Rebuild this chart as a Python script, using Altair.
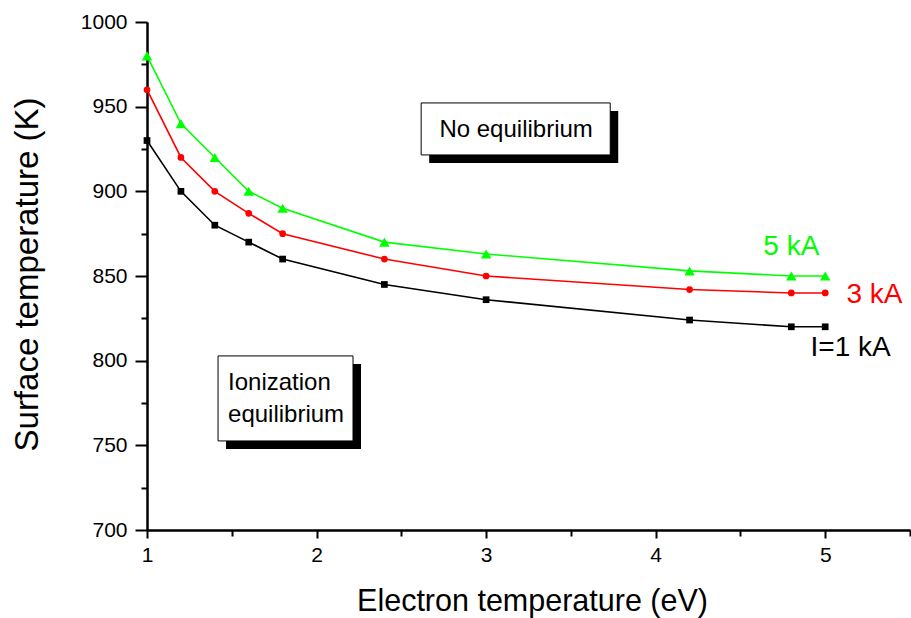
import altair as alt
import pandas as pd

# ---- data ----
TE = [1, 1.2, 1.4, 1.6, 1.8, 2.4, 3, 4.2, 4.8, 5]
T_1KA = [930, 900, 880, 870, 860, 845, 836, 824, 820, 820]
T_3KA = [960, 920, 900, 887, 875, 860, 850, 842, 840, 840]
T_5KA = [980, 940, 920, 900, 890, 870, 863, 853, 850, 850]
SERIES = ["1 kA", "3 kA", "5 kA"]
COLORS = ["#000000", "#ff0000", "#00ff00"]
SHAPES = ["square", "circle", "triangle-up"]

X_MAJOR = [1, 2, 3, 4, 5]
X_MINOR = [1.5, 2.5, 3.5, 4.5, 5.5]
Y_MAJOR = [700, 750, 800, 850, 900, 950, 1000]
Y_MINOR = [725, 775, 825, 875, 925, 975]

LABEL_TEXT = ["5 kA", "3 kA", "I=1 kA"]
LABEL_X = [4.80, 5.29, 5.15]
LABEL_Y = [867, 839, 807.5]
LABEL_COLOR = ["#00ff00", "#ff0000", "#000000"]

BOX_X1 = [2.617, 1.419]
BOX_X2 = [3.732, 2.215]
BOX_Y1 = [952.2, 802.8]
BOX_Y2 = [921.5, 752.6]

BOXTEXT = ["No equilibrium", "Ionization", "equilibrium"]
BOXTEXT_X = [3.177, 1.478, 1.478]
BOXTEXT_Y = [936.3, 786.8, 767.9]
BOXTEXT_ALIGN = ["center", "left", "left"]

FONT = "Liberation Sans, Arial, Helvetica, sans-serif"

rows = []
for name, vals in zip(SERIES, [T_1KA, T_3KA, T_5KA]):
    for x, y in zip(TE, vals):
        rows.append({"te": x, "T": y, "series": name})
df = pd.DataFrame(rows)

labels_df = pd.DataFrame({"text": LABEL_TEXT, "x": LABEL_X, "y": LABEL_Y, "c": LABEL_COLOR})
boxes_df = pd.DataFrame({"x1": BOX_X1, "x2": BOX_X2, "y1": BOX_Y1, "y2": BOX_Y2})
boxtext_df = pd.DataFrame({"text": BOXTEXT, "x": BOXTEXT_X, "y": BOXTEXT_Y, "a": BOXTEXT_ALIGN})

xscale = alt.Scale(domain=[1, 5.5], nice=False, zero=False)
yscale = alt.Scale(domain=[700, 1000], nice=False, zero=False)

major_x = alt.Axis(
    orient="bottom", values=X_MAJOR, format="d", title="Electron temperature (eV)",
    grid=False, tickSize=8, tickWidth=2, domainWidth=2, domainColor="black", tickColor="black",
    labelFont=FONT, labelFontSize=21, labelColor="black", labelPadding=6, labelFlush=False,
    titleFont=FONT, titleFontSize=30.5, titleFontWeight="normal", titleColor="black",
    titleBaseline="alphabetic", titleY=80, titleX=385,
)
major_y = alt.Axis(
    orient="left", values=Y_MAJOR, format="d", title="Surface temperature (K)",
    grid=False, tickSize=12, tickWidth=2, domainWidth=2, domainColor="black", tickColor="black",
    labelFont=FONT, labelFontSize=21, labelColor="black", labelPadding=8, labelFlush=False,
    titleFont=FONT, titleFontSize=33, titleFontWeight="normal", titleColor="black",
    titleBaseline="alphabetic", titleX=-110, titleY=252, titleAngle=-90,
)
minor_x = alt.Axis(
    orient="bottom", values=X_MINOR, labels=False, title=None, grid=False,
    tickSize=6, tickWidth=2, domainWidth=2, domainColor="black", tickColor="black",
)
minor_y = alt.Axis(
    orient="left", values=Y_MINOR, labels=False, title=None, grid=False,
    tickSize=6, tickWidth=2, domainWidth=2, domainColor="black", tickColor="black",
)

color = alt.Color("series:N", scale=alt.Scale(domain=SERIES, range=COLORS), legend=None)
shape = alt.Shape("series:N", scale=alt.Scale(domain=SERIES, range=SHAPES), legend=None)

lines = alt.Chart(df).mark_line(strokeWidth=1.6).encode(
    x=alt.X("te:Q", scale=xscale, axis=major_x),
    y=alt.Y("T:Q", scale=yscale, axis=major_y),
    color=color,
    detail="series:N",
)
points_small = alt.Chart(df).transform_filter("datum.series != '5 kA'").mark_point(
    filled=True, opacity=1, size=45, strokeWidth=0
).encode(
    x=alt.X("te:Q", scale=xscale, axis=None),
    y=alt.Y("T:Q", scale=yscale, axis=None),
    color=color,
    shape=shape,
)
points_tri = alt.Chart(df).transform_filter("datum.series == '5 kA'").mark_point(
    filled=True, opacity=1, size=110, strokeWidth=0
).encode(
    x=alt.X("te:Q", scale=xscale, axis=None),
    y=alt.Y("T:Q", scale=yscale, axis=None),
    color=color,
    shape=shape,
)
minor = alt.Chart(df).mark_point(opacity=0).encode(
    x=alt.X("te:Q", scale=xscale, axis=minor_x),
    y=alt.Y("T:Q", scale=yscale, axis=minor_y),
)

shadow = alt.Chart(boxes_df).mark_rect(color="black", xOffset=8, yOffset=8, x2Offset=8, y2Offset=8).encode(
    x=alt.X("x1:Q", scale=xscale, axis=None), x2="x2:Q",
    y=alt.Y("y1:Q", scale=yscale, axis=None), y2="y2:Q",
)
box = alt.Chart(boxes_df).mark_rect(fill="white", stroke="black", strokeWidth=1).encode(
    x=alt.X("x1:Q", scale=xscale, axis=None), x2="x2:Q",
    y=alt.Y("y1:Q", scale=yscale, axis=None), y2="y2:Q",
)
boxtext_center = alt.Chart(boxtext_df).transform_filter("datum.a == 'center'").mark_text(
    font=FONT, fontSize=24, align="center", baseline="middle", color="black"
).encode(
    x=alt.X("x:Q", scale=xscale, axis=None),
    y=alt.Y("y:Q", scale=yscale, axis=None),
    text="text:N",
)
boxtext_left = alt.Chart(boxtext_df).transform_filter("datum.a == 'left'").mark_text(
    font=FONT, fontSize=24, align="left", baseline="middle", color="black"
).encode(
    x=alt.X("x:Q", scale=xscale, axis=None),
    y=alt.Y("y:Q", scale=yscale, axis=None),
    text="text:N",
)
series_labels = alt.Chart(labels_df).mark_text(
    font=FONT, fontSize=28, align="center", baseline="middle"
).encode(
    x=alt.X("x:Q", scale=xscale, axis=None),
    y=alt.Y("y:Q", scale=yscale, axis=None),
    text="text:N",
    color=alt.Color("c:N", scale=None, legend=None),
)

chart = alt.layer(
    minor, shadow, box, boxtext_center, boxtext_left, lines, points_small, points_tri, series_labels
).resolve_axis(x="independent", y="independent").resolve_scale(color="independent").properties(
    width=763, height=508,
    padding={"left": 147, "top": 22, "right": 1, "bottom": 88},
    autosize=alt.AutoSizeParams(type="none"),
    background="white",
).configure_view(stroke=None)

chart.save("out.html", embed_options={"renderer": "svg", "actions": False})
